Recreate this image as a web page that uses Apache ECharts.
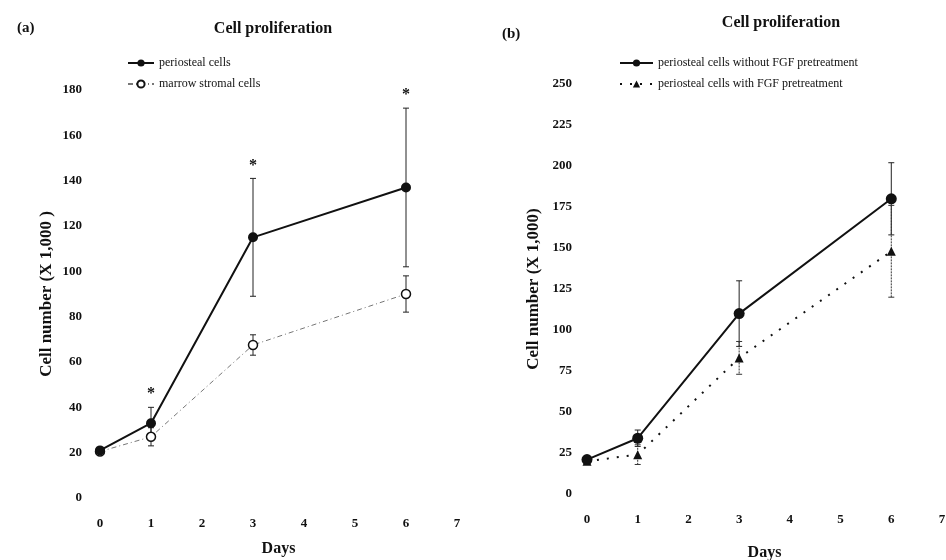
<!DOCTYPE html>
<html lang="en">
<head>
    <meta charset="UTF-8">
    <title>Cell proliferation</title>
    <script src="https://cdn.jsdelivr.net/npm/echarts@6/dist/echarts.min.js"></script>
    <style>
        html, body { margin: 0; padding: 0; background: #fff; }
        #main { width: 946px; height: 560px; }
    </style>
</head>
<body>
<div id="main"></div>
<script>
    // (a) periosteal vs marrow stromal cells
    var daysA = [0, 1, 3, 6];
    var periMean = [21, 33, 115, 137];
    var periErr = [0, 7, 26, 35];
    var marrowMean = [20.5, 27, 67.5, 90];
    var marrowErr = [0, 4, 4.5, 8];
    var starIdx = [1, 2, 3];   // significant points (index into daysA)

    // (b) with / without FGF pretreatment
    var daysB = [0, 1, 3, 6];
    var noFgfMean = [21, 34, 110, 180];
    var noFgfErr = [0, 5, 20, 22];
    var fgfMean = [20, 24, 83, 148];
    var fgfErr = [0, 6, 10, 28];

    var xTicks = [0, 1, 2, 3, 4, 5, 6, 7];

    var serif = '"Liberation Serif", "DejaVu Serif", serif';

    function pairs(xs, ys) {
        return xs.map(function (x, i) { return [x, ys[i]]; });
    }
    function bars(xs, ys, es) {
        var out = [];
        xs.forEach(function (x, i) {
            if (es[i] > 0) out.push([x, ys[i] - es[i], ys[i] + es[i]]);
        });
        return out;
    }

    function errBar(color, dash) {
        return function (params, api) {
            var x = api.value(0);
            var top = api.coord([x, api.value(2)]);
            var bot = api.coord([x, api.value(1)]);
            var st = { stroke: color, lineWidth: 1, lineDash: dash };
            var w = 3;
            return {
                type: 'group',
                children: [
                    { type: 'line', shape: { x1: top[0], y1: top[1], x2: bot[0], y2: bot[1] }, style: st },
                    { type: 'line', shape: { x1: top[0] - w, y1: top[1], x2: top[0] + w, y2: top[1] }, style: { stroke: color, lineWidth: 1 } },
                    { type: 'line', shape: { x1: bot[0] - w, y1: bot[1], x2: bot[0] + w, y2: bot[1] }, style: { stroke: color, lineWidth: 1 } }
                ]
            };
        };
    }

    function starItem(params, api) {
        var p = api.coord([api.value(0), api.value(1)]);
        return {
            type: 'text',
            style: { x: p[0], y: p[1] - 5, text: '*', fill: '#111', font: 'bold 16px ' + serif, textAlign: 'center', textVerticalAlign: 'bottom' }
        };
    }

    var starData = starIdx.map(function (i) { return [daysA[i], periMean[i] + periErr[i]]; });

    var axisLabelStyle = { color: '#111', fontFamily: serif, fontWeight: 'bold', fontSize: 13 };

    function xAxisOf(idx, margin, gap) {
        return {
            type: 'value', gridIndex: idx, min: 0, max: 7, interval: 1,
            axisLine: { show: false }, axisTick: { show: false }, splitLine: { show: false },
            axisLabel: Object.assign({ margin: margin, formatter: function (v) { return xTicks.indexOf(v) >= 0 ? String(v) : ''; } }, axisLabelStyle),
            name: 'Days', nameLocation: 'middle', nameGap: gap,
            nameTextStyle: { color: '#111', fontFamily: serif, fontSize: 16, fontWeight: 'bold' }
        };
    }
    function yAxisOf(idx, max, interval, name, margin) {
        return {
            type: 'value', gridIndex: idx, min: 0, max: max, interval: interval,
            axisLine: { show: false }, axisTick: { show: false }, splitLine: { show: false },
            axisLabel: Object.assign({ margin: margin }, axisLabelStyle),
            name: name, nameLocation: 'middle', nameGap: 45, nameRotate: 90,
            nameTextStyle: { color: '#111', fontFamily: serif, fontSize: 17, fontWeight: 'bold' }
        };
    }

    var myChart = echarts.init(document.getElementById('main'));
    var option = {
        backgroundColor: '#fff',
        animation: false,
        title: [
            { text: '(a)', left: 12, top: 16, textStyle: { fontFamily: serif, fontSize: 15, fontWeight: 'bold', color: '#111' } },
            { text: 'Cell proliferation', left: 268, top: 16, textAlign: 'center', textStyle: { fontFamily: serif, fontSize: 16, fontWeight: 'bold', color: '#111' } },
            { text: '(b)', left: 497, top: 22, textStyle: { fontFamily: serif, fontSize: 15, fontWeight: 'bold', color: '#111' } },
            { text: 'Cell proliferation', left: 776, top: 10, textAlign: 'center', textStyle: { fontFamily: serif, fontSize: 16, fontWeight: 'bold', color: '#111' } }
        ],
        legend: [
            {
                data: ['periosteal cells', 'marrow stromal cells'],
                orient: 'vertical', left: 122, top: 52, itemGap: 9, itemWidth: 26, itemHeight: 9,
                textStyle: { fontFamily: serif, fontSize: 12, color: '#111' }
            },
            {
                data: ['periosteal cells without FGF pretreatment', 'periosteal cells with FGF pretreatment'],
                orient: 'vertical', left: 614, top: 52, itemGap: 9, itemWidth: 33, itemHeight: 9,
                textStyle: { fontFamily: serif, fontSize: 12, color: '#111' }
            }
        ],
        grid: [
            { left: 100, right: 489, top: 90, bottom: 62, outerBoundsMode: 'none', containLabel: false },
            { left: 587, right: 4, top: 84, bottom: 66, outerBoundsMode: 'none', containLabel: false }
        ],
        xAxis: [xAxisOf(0, 19, 43), xAxisOf(1, 19, 51)],
        yAxis: [
            yAxisOf(0, 180, 20, 'Cell number (X 1,000 )', 18),
            yAxisOf(1, 250, 25, 'Cell number (X 1,000)', 15)
        ],
        series: [
            {
                type: 'custom', xAxisIndex: 0, yAxisIndex: 0, z: 1,
                renderItem: errBar('#222', null), data: bars(daysA, periMean, periErr)
            },
            {
                type: 'custom', xAxisIndex: 0, yAxisIndex: 0, z: 1,
                renderItem: errBar('#222', null), data: bars(daysA, marrowMean, marrowErr)
            },
            {
                name: 'marrow stromal cells', type: 'line', xAxisIndex: 0, yAxisIndex: 0, z: 3,
                data: pairs(daysA, marrowMean),
                symbol: 'circle', symbolSize: 9,
                itemStyle: { color: '#fff', borderColor: '#111', borderWidth: 1.5 },
                lineStyle: { color: '#777', width: 1, type: [5, 3, 1, 3] }
            },
            {
                name: 'periosteal cells', type: 'line', xAxisIndex: 0, yAxisIndex: 0, z: 4,
                data: pairs(daysA, periMean),
                symbol: 'circle', symbolSize: 10,
                itemStyle: { color: '#111' },
                lineStyle: { color: '#111', width: 2 }
            },
            {
                type: 'custom', xAxisIndex: 0, yAxisIndex: 0, z: 5,
                renderItem: starItem, data: starData
            },
            {
                type: 'custom', xAxisIndex: 1, yAxisIndex: 1, z: 1,
                renderItem: errBar('#222', null), data: bars(daysB, noFgfMean, noFgfErr)
            },
            {
                type: 'custom', xAxisIndex: 1, yAxisIndex: 1, z: 1,
                renderItem: errBar('#333', [2, 1]), data: bars(daysB, fgfMean, fgfErr)
            },
            {
                name: 'periosteal cells with FGF pretreatment', type: 'line', xAxisIndex: 1, yAxisIndex: 1, z: 3,
                data: pairs(daysB, fgfMean),
                symbol: 'triangle', symbolSize: 9,
                itemStyle: { color: '#111' },
                lineStyle: { color: '#111', width: 2, type: [2, 8] }
            },
            {
                name: 'periosteal cells without FGF pretreatment', type: 'line', xAxisIndex: 1, yAxisIndex: 1, z: 4,
                data: pairs(daysB, noFgfMean),
                symbol: 'circle', symbolSize: 11,
                itemStyle: { color: '#111' },
                lineStyle: { color: '#111', width: 2 }
            }
        ]
    };
    myChart.setOption(option, true);
</script>
</body>
</html>
